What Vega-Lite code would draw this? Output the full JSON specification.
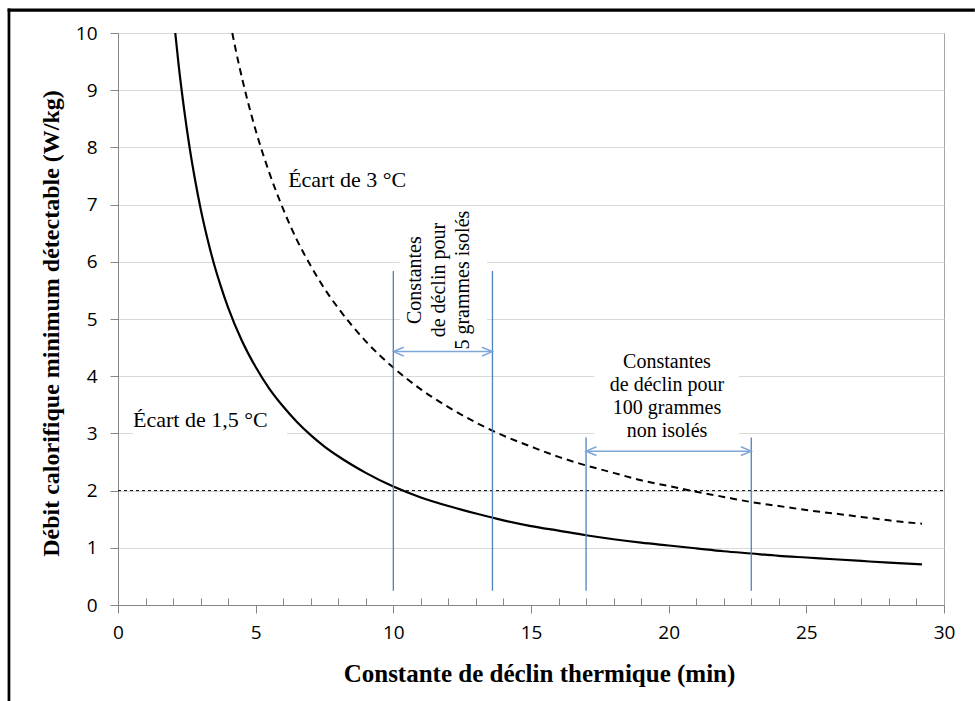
{
  "$schema": "https://vega.github.io/schema/vega-lite/v6.json",
  "width": 826,
  "height": 572,
  "autosize": {"type": "none"},
  "padding": {"left": 118, "top": 33, "right": 31, "bottom": 96},
  "background": "white",
  "config": {
    "view": {"stroke": "#a6a6a6", "strokeWidth": 1},
    "axis": {
      "labelFont": "Open Sans",
      "labelFontSize": 19,
      "labelColor": "#000000",
      "labelFlush": false,
      "titleFont": "Liberation Serif",
      "titleFontSize": 24,
      "titleFontWeight": "bold",
      "titleColor": "#000000",
      "domainColor": "#868686",
      "tickColor": "#868686",
      "gridColor": "#d9d9d9"
    }
  },
  "datasets": {
    "solid": [
      {"x": 2.08, "y": 10.0}, {"x": 2.2, "y": 9.45}, {"x": 2.4, "y": 8.67}, {"x": 2.6, "y": 8.0},
      {"x": 2.8, "y": 7.43}, {"x": 3.0, "y": 6.93}, {"x": 3.25, "y": 6.4}, {"x": 3.5, "y": 5.94},
      {"x": 3.75, "y": 5.55}, {"x": 4.0, "y": 5.2}, {"x": 4.5, "y": 4.62}, {"x": 5.0, "y": 4.16},
      {"x": 5.5, "y": 3.78}, {"x": 6.0, "y": 3.47}, {"x": 6.5, "y": 3.2}, {"x": 7.0, "y": 2.97},
      {"x": 7.5, "y": 2.77}, {"x": 8.0, "y": 2.6}, {"x": 9.0, "y": 2.31}, {"x": 10.0, "y": 2.07},
      {"x": 11.0, "y": 1.88}, {"x": 12.0, "y": 1.73}, {"x": 13.0, "y": 1.6}, {"x": 14.0, "y": 1.48},
      {"x": 15.0, "y": 1.38}, {"x": 16.0, "y": 1.3}, {"x": 17.0, "y": 1.22}, {"x": 18.0, "y": 1.15},
      {"x": 19.0, "y": 1.09}, {"x": 20.0, "y": 1.04}, {"x": 21.0, "y": 0.99}, {"x": 22.0, "y": 0.94},
      {"x": 23.0, "y": 0.9}, {"x": 24.0, "y": 0.86}, {"x": 25.0, "y": 0.83}, {"x": 26.0, "y": 0.8},
      {"x": 27.0, "y": 0.77}, {"x": 28.0, "y": 0.74}, {"x": 29.2, "y": 0.71}
    ],
    "dashed": [
      {"x": 4.15, "y": 10.0}, {"x": 4.4, "y": 9.43}, {"x": 4.7, "y": 8.83}, {"x": 5.0, "y": 8.3},
      {"x": 5.5, "y": 7.55}, {"x": 6.0, "y": 6.92}, {"x": 6.5, "y": 6.38}, {"x": 7.0, "y": 5.93},
      {"x": 7.5, "y": 5.53}, {"x": 8.0, "y": 5.19}, {"x": 9.0, "y": 4.61}, {"x": 10.0, "y": 4.15},
      {"x": 11.0, "y": 3.77}, {"x": 12.0, "y": 3.46}, {"x": 13.0, "y": 3.19}, {"x": 14.0, "y": 2.96},
      {"x": 15.0, "y": 2.77}, {"x": 16.0, "y": 2.59}, {"x": 17.0, "y": 2.44}, {"x": 18.0, "y": 2.31},
      {"x": 19.0, "y": 2.18}, {"x": 20.0, "y": 2.08}, {"x": 21.0, "y": 1.98}, {"x": 22.0, "y": 1.89},
      {"x": 23.0, "y": 1.8}, {"x": 24.0, "y": 1.73}, {"x": 25.0, "y": 1.66}, {"x": 26.0, "y": 1.6},
      {"x": 27.0, "y": 1.54}, {"x": 28.0, "y": 1.48}, {"x": 29.2, "y": 1.42}
    ],
    "boxes": [
      {"x": 10.24, "x2": 13.4, "y": 4.55, "y2": 6.95},
      {"x": 17.3, "x2": 22.55, "y": 2.95, "y2": 4.6},
      {"x": 0.54, "x2": 6.14, "y": 2.88, "y2": 3.6}
    ],
    "vlines": [
      {"x": 10.0, "y": 0.25, "y2": 5.84},
      {"x": 13.6, "y": 0.25, "y2": 5.84},
      {"x": 17.0, "y": 0.25, "y2": 2.93},
      {"x": 23.0, "y": 0.25, "y2": 2.93}
    ],
    "arrows": [
      {"x": 10.0, "x2": 13.6, "y": 4.43},
      {"x": 17.0, "x2": 23.0, "y": 2.69}
    ],
    "heads": [
      {"x": 10.0, "y": 4.43, "d": "L"},
      {"x": 13.6, "y": 4.43, "d": "R"},
      {"x": 17.0, "y": 2.69, "d": "L"},
      {"x": 23.0, "y": 2.69, "d": "R"}
    ],
    "frame": [
      {"x": -4.01, "x2": -3.91, "y": -1.8, "y2": 10.43},
      {"x": -4.01, "x2": 31.12, "y": 10.37, "y2": 10.43}
    ]
  },
  "encoding": {
    "x": {
      "field": "x",
      "type": "quantitative",
      "scale": {"domain": [0, 30], "nice": false, "zero": false},
      "axis": null
    },
    "y": {
      "field": "y",
      "type": "quantitative",
      "scale": {"domain": [0, 10], "nice": false, "zero": false},
      "axis": {
        "values": [0, 1, 2, 3, 4, 5, 6, 7, 8, 9, 10],
        "tickSize": 8,
        "labelPadding": 13,
        "grid": true,
        "title": "Débit calorifique minimum détectable (W/kg)",
        "titleX": -60,
        "titleY": 290,
        "titleBaseline": "alphabetic",
        "titleAlign": "center",
        "titleAngle": 270
      }
    }
  },
  "layer": [
    {
      "data": {"name": "boxes"},
      "mark": {"type": "rect", "color": "white"},
      "encoding": {
        "x": {
          "field": "x",
          "type": "quantitative",
          "scale": {"domain": [0, 30], "nice": false, "zero": false},
          "axis": {
            "orient": "bottom",
            "values": [0, 5, 10, 15, 20, 25, 30],
            "tickSize": 8,
            "labelPadding": 10,
            "grid": false,
            "title": "Constante de déclin thermique (min)",
            "titleFontSize": 25,
            "titleX": 421,
            "titleY": 76,
            "titleBaseline": "alphabetic",
            "titleAlign": "center"
          }
        },
        "x2": {"field": "x2"},
        "y2": {"field": "y2"}
      }
    },
    {
      "data": {"values": [{"x": 0, "x2": 30, "y": 2}]},
      "mark": {"type": "rule", "color": "#000000", "strokeWidth": 1, "strokeDash": [3, 3]},
      "encoding": {
        "x": {
          "field": "x",
          "type": "quantitative",
          "scale": {"domain": [0, 30], "nice": false, "zero": false},
          "axis": {
            "orient": "bottom",
            "values": [1, 2, 3, 4, 6, 7, 8, 9, 11, 12, 13, 14, 16, 17, 18, 19, 21, 22, 23, 24, 26, 27, 28, 29],
            "tickSize": -7,
            "labels": false,
            "domain": false,
            "grid": false,
            "title": null
          }
        },
        "x2": {"field": "x2"}
      }
    },
    {
      "data": {"name": "solid"},
      "mark": {"type": "line", "color": "#000000", "strokeWidth": 2.2, "interpolate": "monotone"}
    },
    {
      "data": {"name": "dashed"},
      "mark": {"type": "line", "color": "#000000", "strokeWidth": 2, "strokeDash": [7, 5], "interpolate": "monotone"}
    },
    {
      "data": {"name": "vlines"},
      "mark": {"type": "rule", "color": "#4f81bd", "strokeWidth": 1.3},
      "encoding": {"y2": {"field": "y2"}}
    },
    {
      "data": {"name": "arrows"},
      "mark": {"type": "rule", "color": "#7fa6d8", "strokeWidth": 1.5},
      "encoding": {"x2": {"field": "x2"}}
    },
    {
      "data": {"name": "heads"},
      "mark": {"type": "point", "filled": false, "color": "#7fa6d8", "strokeWidth": 1.5, "size": 64, "opacity": 1},
      "encoding": {
        "shape": {
          "field": "d",
          "type": "nominal",
          "scale": {"domain": ["L", "R"], "range": ["M2.6,-1.1L0,0L2.6,1.1", "M-2.6,-1.1L0,0L-2.6,1.1"]},
          "legend": null
        }
      }
    },
    {
      "data": {"values": [
        {"x": 6.18, "y": 7.31, "t": "Écart de 3 °C"},
        {"x": 0.545, "y": 3.11, "t": "Écart de 1,5 °C"}
      ]},
      "mark": {"type": "text", "font": "Liberation Serif", "fontSize": 22, "align": "left", "baseline": "alphabetic", "color": "#000000"},
      "encoding": {"text": {"field": "t"}}
    },
    {
      "data": {"values": [
        {"x": 10.78, "y": 5.68, "t": ["Constantes", "de déclin pour", "5 grammes isolés"]}
      ]},
      "mark": {"type": "text", "font": "Liberation Serif", "fontSize": 20, "align": "center", "baseline": "middle", "angle": 270, "lineHeight": 24, "color": "#000000"},
      "encoding": {"text": {"field": "t"}}
    },
    {
      "data": {"values": [
        {"x": 19.94, "y": 4.14, "t": ["Constantes", "de déclin pour", "100 grammes", "non isolés"]}
      ]},
      "mark": {"type": "text", "font": "Liberation Serif", "fontSize": 20, "align": "center", "baseline": "alphabetic", "lineHeight": 23, "color": "#000000"},
      "encoding": {"text": {"field": "t"}}
    },
    {
      "data": {"name": "frame"},
      "mark": {"type": "rect", "color": "#000000"},
      "encoding": {"x2": {"field": "x2"}, "y2": {"field": "y2"}}
    }
  ],
  "resolve": {"axis": {"x": "independent"}}
}
